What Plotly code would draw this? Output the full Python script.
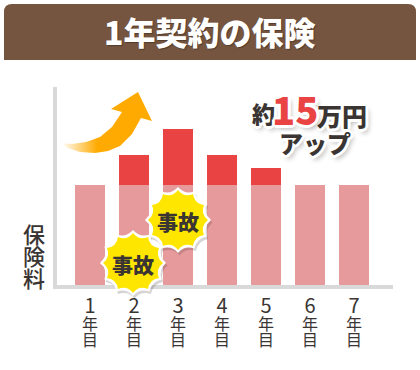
import math
import plotly.graph_objects as go

W, H = 420, 370
years = ["1", "2", "3", "4", "5", "6", "7"]
base_premium = [100, 100, 100, 100, 100, 100, 100]
extra_premium = [0, 30, 56, 30, 17, 0, 0]
FONT = "Noto Sans CJK JP"
INK = "#3a3532"

fig = go.Figure()
fig.add_bar(x=years, y=base_premium, marker=dict(color="#e79a9b", line_width=0), width=30/44)
fig.add_bar(x=years, y=extra_premium, marker=dict(color="#e94344", line_width=0), width=30/44)

arrow_x = [61, 72, 86, 100, 112, 122, 111, 138, 152, 141, 132, 120, 108, 95, 80, 68, 61]
arrow_y = [143, 144, 142, 137, 127, 112, 109, 92, 121, 118, 134, 146, 151, 153, 152, 148, 143]
fig.add_scatter(x=arrow_x, y=arrow_y, xaxis="x2", yaxis="y2", mode="none", fill="toself",
                fillgradient=dict(type="horizontal", colorscale=[[0, "rgba(255,170,0,0)"], [0.4, "rgba(255,170,0,1)"], [1, "rgba(255,170,0,1)"]]),
                hoverinfo="skip")


def burst(cx, cy, r_out, r_in, n=12):
    p = []
    for i in range(n):
        a0 = -math.pi / 2 + 2 * math.pi * i / n
        a1 = a0 + math.pi / n
        a2 = a0 + 2 * math.pi / n
        if i == 0:
            p.append(f"M{cx + r_out * math.cos(a0):.1f},{cy + r_out * math.sin(a0):.1f}")
        p.append(f"Q{cx + r_in * math.cos(a1):.1f},{cy + r_in * math.sin(a1):.1f} {cx + r_out * math.cos(a2):.1f},{cy + r_out * math.sin(a2):.1f}")
    return " ".join(p) + " Z"


shapes = [dict(type="path", xref="x2", yref="y2", layer="below", line_width=0, fillcolor="#75553f",
               path="M4,60 L4,12 Q4,4 12,4 L408,4 Q416,4 416,12 L416,60 Z")]
for cx, cy in [(178, 220), (133, 263)]:
    shapes.append(dict(type="path", xref="x2", yref="y2", layer="above", line_width=0,
                       fillcolor="rgba(60,40,40,0.2)", path=burst(cx + 1.5, cy + 2.5, 33, 26)))
    shapes.append(dict(type="path", xref="x2", yref="y2", layer="above", line_width=0,
                       fillcolor="#ffffff", path=burst(cx, cy, 33, 26)))
    shapes.append(dict(type="path", xref="x2", yref="y2", layer="above", line_width=0,
                       fillcolor="#ffe600", path=burst(cx, cy, 30, 23)))


def text(t, x, y, size, color=INK, weight=400, shadow="none"):
    return dict(text=t, x=x, y=y, xref="x2", yref="y2", showarrow=False, xanchor="center", yanchor="middle",
                font=dict(family=FONT, size=size, color=color, weight=weight, shadow=shadow))


halo = ",".join(f"{dx}px {dy}px 0 #fff" for dx, dy in [(-2, -2), (0, -3), (2, -2), (-3, 0), (3, 0), (-2, 2), (0, 3), (2, 2)]) + ",3px 4px 5px rgba(0,0,0,.3)"
anns = [
    text("1年契約の保険", 210, 31, 32, "#ffffff", 900, "1px 1px 1px rgba(0,0,0,.3)"),
    text("保", 34, 233, 22, INK, 500), text("険", 34, 255, 22, INK, 500), text("料", 34, 277, 22, INK, 500),
    text("事故", 178, 221, 21, INK, 900), text("事故", 133, 264, 21, INK, 900),
    text("約", 263, 113, 23, INK, 900, halo),
    text("万円", 342, 115, 25, INK, 900, halo),
    text("15", 295, 108, 38, "#e94344", 900, halo),
    text("アップ", 315, 142, 24, INK, 900, halo),
]
for i in range(len(years)):
    px = 90 + 44 * i
    anns.append(text("年", px, 323, 16))
    anns.append(text("目", px, 339, 16))

fig.update_layout(
    width=W, height=H, margin=dict(l=0, r=0, t=0, b=0), barmode="stack", showlegend=False,
    paper_bgcolor="#ffffff", plot_bgcolor="rgba(0,0,0,0)", shapes=shapes, annotations=anns,
    xaxis=dict(domain=[57 / W, 393 / W], range=[-0.75, 6.886], type="category", tickvals=years, ticktext=years,
               showgrid=False, showline=True, linecolor="#d9d9d9", linewidth=4, ticks="", ticklen=0,
               tickfont=dict(family=FONT, size=20, color=INK)),
    yaxis=dict(domain=[1 - 285 / H, 1 - 87 / H], range=[0, 198], showgrid=False, zeroline=False, showline=True,
               linecolor="#d9d9d9", linewidth=4, showticklabels=False, ticks=""),
    xaxis2=dict(domain=[0, 1], range=[0, W], visible=False, anchor="y2"),
    yaxis2=dict(domain=[0, 1], range=[H, 0], visible=False, anchor="x2"),
)
fig.write_html("out.html", config=dict(displayModeBar=False), post_script="document.body.style.margin='0';")
